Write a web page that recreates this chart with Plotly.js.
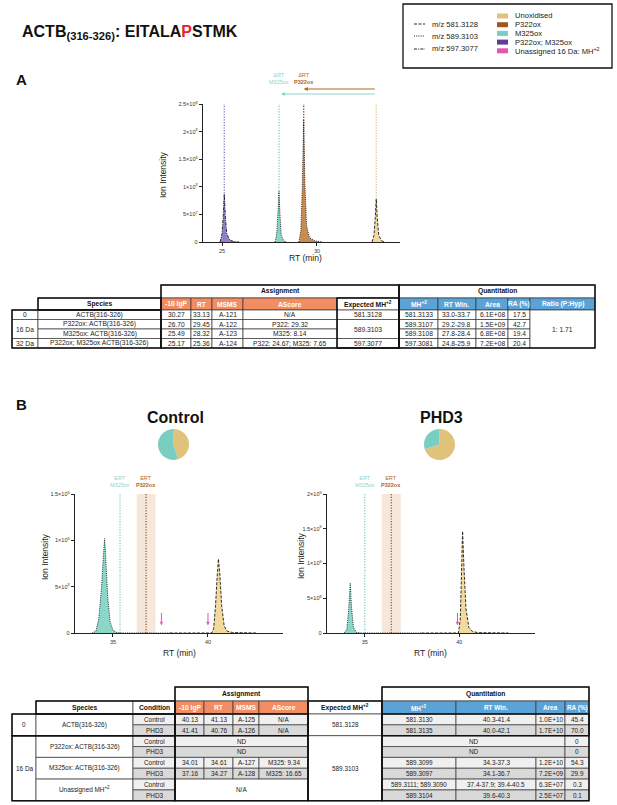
<!DOCTYPE html>
<html><head><meta charset="utf-8">
<script src="https://cdn.plot.ly/plotly-3.0.1.min.js"></script>
<style>body{margin:0;background:#fff}#chart{width:617px;height:805px}</style>
</head><body><div id="chart"></div>
<script>
// ---------------- DATA ----------------
// Panel A: extracted ion chromatograms (RT in min, intensity)
const aUnoxX = [32.9,33.0,33.07,33.12,33.17,33.25,33.4,33.6];
const aUnoxY = [0,1.2e7,4.5e7,7.8e7,4.5e7,1.2e7,2e6,0];
const aP322X = [29.05,29.15,29.23,29.3,29.36,29.45,29.6,29.9,30.3];
const aP322Y = [0,2e7,1.0e8,2.22e8,1.1e8,3e7,8e6,2e6,0];
const aM325X = [27.8,27.88,27.95,28.0,28.05,28.12,28.25,28.4];
const aM325Y = [0,1.5e7,5.5e7,9.2e7,5e7,1.2e7,2e6,0];
const aBothX = [24.9,25.0,25.07,25.12,25.18,25.25,25.4,25.6,25.9];
const aBothY = [0,1.5e7,5e7,8.7e7,4.5e7,1.5e7,4e6,1e6,0];
const aApexRT = [33.12, 29.3, 28.0, 25.12];   // Unox, P322ox, M325ox, both

// Panel B: Control
const bcM325X = [33.9,34.1,34.25,34.4,34.5,34.56,34.62,34.72,34.85,35.0,35.2,35.5,38.0];
const bcM325Y = [0,2e7,1.5e8,5e8,8.5e8,1.02e9,8e8,4e8,1.2e8,3e7,5e6,0,0];
const bcUnoxX = [38.0,40.2,40.3,40.4,40.48,40.55,40.62,40.72,40.85,41.0,41.3,41.7,42.6];
const bcUnoxY = [0,0,5e7,3e8,6e8,8e8,6.5e8,3e8,8e7,2e7,5e6,1e6,0];
// Panel B: PHD3
const bpM325X = [33.9,34.05,34.15,34.23,34.3,34.4,34.55,34.8,38.0];
const bpM325Y = [0,5e7,3.5e8,7.2e8,3.5e8,8e7,1e7,0,0];
const bpUnoxX = [38.0,39.95,40.05,40.12,40.17,40.25,40.35,40.5,40.7,41.0,41.5,42.6];
const bpUnoxY = [0,0,2e8,8e8,1.465e9,9e8,3.5e8,8e7,2e7,5e6,1e6,0];
// Expected RT (ERT) markers and window: [Control, PHD3]
const ertM325 = [35.37, 35.0];
const ertP322 = [36.74, 36.4];
const ertWinLo = [36.25, 35.9];
const ertWinHi = [37.24, 36.9];
const pinkCtrl = [37.55, 40.0];
const pinkPHD3 = [39.9];

// Table A
const tA_delta = ['0','16 Da','32 Da'];
const tA_species = ['ACTB(316-326)','P322ox: ACTB(316-326)','M325ox: ACTB(316-326)','P322ox; M325ox ACTB(316-326)'];
const tA_lgP = ['30.27','26.70','25.49','25.17'];
const tA_RT = ['33.13','29.45','28.32','25.36'];
const tA_MSMS = ['A-121','A-122','A-123','A-124'];
const tA_AScore = ['N/A','P322: 29.32','M325: 8.14','P322: 24.67; M325: 7.65'];
const tA_expected = ['581.3128','589.3103','597.3077'];
const tA_MH = ['581.3133','589.3107','589.3108','597.3081'];
const tA_RTwin = ['33.0-33.7','29.2-29.8','27.8-28.4','24.8-25.9'];
const tA_area = ['6.1E+08','1.5E+09','6.8E+08','7.2E+08'];
const tA_RA = ['17.5','42.7','19.4','20.4'];
const tA_ratio = '1: 1.71';

// Table B
const tB_delta = ['0','16 Da'];
const tB_species = ['ACTB(316-326)','P322ox: ACTB(316-326)','M325ox: ACTB(316-326)','Unassigned MH<sup>+2</sup>'];
const tB_cond = ['Control','PHD3','Control','PHD3','Control','PHD3','Control','PHD3'];
const tB_lgP = ['40.13','41.41','ND','ND','34.01','37.16','N/A','N/A'];
const tB_RT = ['41.13','40.76','','','34.61','34.27','',''];
const tB_MSMS = ['A-125','A-126','','','A-127','A-128','',''];
const tB_AScore = ['N/A','N/A','','','M325: 9.34','M325: 16.65','',''];
const tB_expected = ['581.3128','589.3103'];
const tB_MH = ['581.3130','581.3135','ND','ND','589.3099','589.3097','589.3111; 589.3090','589.3104'];
const tB_RTwin = ['40.3-41.4','40.0-42.1','','','34.3-37.3','34.1-36.7','37.4-37.9; 39.4-40.5','39.6-40.3'];
const tB_area = ['1.0E+10','1.7E+10','','','1.2E+10','7.2E+09','6.3E+07','2.5E+07'];
const tB_RA = ['45.4','70.0','0','0','54.3','29.9','0.3','0.1'];

// Pie charts (relative abundance, %)
const pieLabels = ['Unoxidised','M325ox','Unassigned 16 Da'];
const pieCtrl = [45.4, 54.3, 0.3];
const piePHD3 = [70.0, 29.9, 0.1];

// ---------------- STYLE ----------------
const C = {unox:'#E0C27A', unoxFill:'rgba(240,214,145,0.9)', p322:'#A0561E', p322Fill:'rgba(200,135,70,0.95)',
  m325:'#7ACDC1', m325Fill:'rgba(125,210,195,0.9)', both:'#5A3F94', bothFill:'rgba(135,115,195,0.9)', pink:'#E058B0',
  orange:'#F28C63', blue:'#5BA3D6', g1:'#F0F0F0', g2:'#D9D9D9'};
const W=617, H=805;
const X = p => p/W, Y = p => 1 - p/H;
const FONT = 'Liberation Sans, Arial, sans-serif';
const shapes = [], ann = [];

function txt(x, y, text, o={}) {
  ann.push(Object.assign({xref:'paper', yref:'paper', x:X(x), y:Y(y), text, showarrow:false,
    xanchor:'center', yanchor:'middle', font:{family:FONT, size:6.7, color:'#222'}}, o));
}
function rect(x0,y0,x1,y1,fill,lw,lc){
  shapes.push({type:'rect', xref:'paper', yref:'paper', x0:X(x0), x1:X(x1), y0:Y(y1), y1:Y(y0),
    fillcolor:fill||'rgba(0,0,0,0)', line:{width:lw, color:lc||'#222'}, layer:'above'});
}

// ---------------- TRACES ----------------
const DASH = {d581:'3px,1.5px', d589:'1px,1.2px', d597:'3px,1.2px,1px,1.2px'};
function xic(x, y, xa, ya, dash, fill) {
  return {x, y, xaxis:xa, yaxis:ya, type:'scatter', mode:'lines', fill:'tozeroy', fillcolor:fill,
    line:{color:'#1a1a1a', width:0.9, dash}, hoverinfo:'skip', showlegend:false};
}
const traces = [
  xic(aBothX, aBothY, 'x','y',DASH.d597, C.bothFill),
  xic(aM325X, aM325Y, 'x','y',DASH.d589, C.m325Fill),
  xic(aP322X, aP322Y, 'x','y',DASH.d589, C.p322Fill),
  xic(aUnoxX, aUnoxY, 'x','y',DASH.d581, C.unoxFill),
  xic(bcM325X, bcM325Y, 'x2','y2',DASH.d589, C.m325Fill),
  xic(bcUnoxX, bcUnoxY, 'x2','y2',DASH.d581, C.unoxFill),
  xic(bpM325X, bpM325Y, 'x3','y3',DASH.d589, C.m325Fill),
  xic(bpUnoxX, bpUnoxY, 'x3','y3',DASH.d581, C.unoxFill),
  {type:'pie', values:pieCtrl, labels:pieLabels, sort:false, direction:'clockwise', rotation:0,
   marker:{colors:[C.unox, C.m325, C.pink], line:{width:0}}, textinfo:'none', hoverinfo:'skip', showlegend:false,
   domain:{x:[X(158),X(189)], y:[Y(460),Y(429)]}},
  {type:'pie', values:piePHD3, labels:pieLabels, sort:false, direction:'clockwise', rotation:0,
   marker:{colors:[C.unox, C.m325, C.pink], line:{width:0}}, textinfo:'none', hoverinfo:'skip', showlegend:false,
   domain:{x:[X(424),X(455)], y:[Y(460),Y(429)]}}
];

// ---------------- PANEL A decorations ----------------
const aRefColors = [C.unox, '#7a3e10', C.m325, '#8070C0'];
aApexRT.forEach((rt,i)=>shapes.push({type:'line', xref:'x', yref:'y', x0:rt, x1:rt, y0:0, y1:2.5e8,
  line:{color:aRefColors[i], width:1.3, dash:'1.2px,1.5px'}, layer:'below'}));
// ΔRT arrows
ann.push({xref:'x', yref:'paper', x:aApexRT[1], y:Y(89), axref:'x', ayref:'pixel', ax:aApexRT[0], ay:0,
  showarrow:true, arrowhead:2, arrowsize:0.7, arrowwidth:1.2, arrowcolor:'#B0662A', text:''});
ann.push({xref:'x', yref:'paper', x:aApexRT[2]+0.1, y:Y(94), axref:'x', ayref:'pixel', ax:aApexRT[0], ay:0,
  showarrow:true, arrowhead:2, arrowsize:0.7, arrowwidth:1.2, arrowcolor:'#8FD3CA', text:''});
ann.push({xref:'x', yref:'paper', x:aApexRT[2], y:Y(87), yanchor:'bottom', text:'ΔRT<br>M325ox', showarrow:false,
  font:{family:FONT, size:5.5, color:'#8FD3CA'}});
ann.push({xref:'x', yref:'paper', x:aApexRT[1], y:Y(87), yanchor:'bottom', text:'ΔRT<br><b>P322ox</b>', showarrow:false,
  font:{family:FONT, size:5.5, color:'#B0662A'}});
txt(163, 175, 'Ion Intensity', {textangle:-90, font:{family:FONT, size:8.5, color:'#222'}});
txt(305, 258, 'RT (min)', {font:{family:FONT, size:8.5, color:'#222'}});

// ---------------- PANEL B decorations ----------------
[['x2','y2',1.5e9,0],['x3','y3',2e9,1]].forEach(([xa,ya,top,k])=>{
  shapes.push({type:'rect', xref:xa, yref:ya, x0:ertWinLo[k], x1:ertWinHi[k], y0:0, y1:top,
    fillcolor:'rgba(236,214,190,0.55)', line:{width:0}, layer:'below'});
  shapes.push({type:'line', xref:xa, yref:ya, x0:ertM325[k], x1:ertM325[k], y0:0, y1:top,
    line:{color:'#6FCDC0', width:1.2, dash:'1.2px,1.5px'}, layer:'below'});
  shapes.push({type:'line', xref:xa, yref:ya, x0:ertP322[k], x1:ertP322[k], y0:0, y1:top,
    line:{color:'#9A5220', width:1.2, dash:'1.2px,1.5px'}, layer:'below'});
  ann.push({xref:xa, yref:'paper', x:ertM325[k], y:Y(482), text:'ERT<br>M325ox', showarrow:false,
    font:{family:FONT, size:5.5, color:'#8FD3CA'}});
  ann.push({xref:xa, yref:'paper', x:ertP322[k], y:Y(482), text:'ERT<br><b>P322ox</b>', showarrow:false,
    font:{family:FONT, size:5.5, color:'#B0662A'}});
  const pinks = k===0 ? pinkCtrl : pinkPHD3;
  pinks.forEach(px=>ann.push({xref:xa, yref:ya, x:px, y:top*0.055, axref:xa, ayref:ya, ax:px, ay:top*0.155,
    showarrow:true, arrowhead:2, arrowsize:0.7, arrowwidth:1, arrowcolor:C.pink, text:''}));
});
txt(45, 556, 'Ion Intensity', {textangle:-90, font:{family:FONT, size:8.5, color:'#222'}});
txt(180, 653, 'RT (min)', {font:{family:FONT, size:8.5, color:'#222'}});
txt(301, 556, 'Ion Intensity', {textangle:-90, font:{family:FONT, size:8.5, color:'#222'}});
txt(430, 653, 'RT (min)', {font:{family:FONT, size:8.5, color:'#222'}});
txt(175, 417, '<b>Control</b>', {font:{family:FONT, size:16, color:'#111'}});
txt(441, 417, '<b>PHD3</b>', {font:{family:FONT, size:16, color:'#111'}});

// ---------------- Title, panel letters, legend ----------------
txt(20, 32, '<b>ACTB<sub>(316-326)</sub>: EITALA<span style="color:#E8231F">P</span>STMK</b>',
  {xanchor:'left', font:{family:FONT, size:16, color:'#111'}});
txt(14, 80, '<b>A</b>', {xanchor:'left', font:{family:FONT, size:15, color:'#111'}});
txt(14, 404, '<b>B</b>', {xanchor:'left', font:{family:FONT, size:15, color:'#111'}});

rect(403, 4, 612, 68, null, 1.3, '#111');
const legLines = [['m/z 581.3128',DASH.d581,24],['m/z 589.3103',DASH.d589,36],['m/z 597.3077',DASH.d597,49]];
legLines.forEach(([t,d,y])=>{
  shapes.push({type:'line', xref:'paper', yref:'paper', x0:X(414), x1:X(425), y0:Y(y), y1:Y(y), line:{color:'#222', width:1, dash:d}});
  txt(430, y, t, {xanchor:'left', font:{family:FONT, size:7.6, color:'#222'}});
});
const legSw = [['Unoxidised',C.unox],['P322ox',C.p322],['M325ox',C.m325],['P322ox; M325ox',C.both],['Unassigned 16 Da: MH<sup>+2</sup>',C.pink]];
legSw.forEach(([t,c],i)=>{
  const y = 16 + i*8.7;
  rect(497, y-2.5, 508, y+2.5, c, 0);
  txt(513, y, t, {xanchor:'left', font:{family:FONT, size:7.6, color:'#222'}});
});

// ---------------- TABLES ----------------
function cell(cx, ry, c0, c1, r0, r1, text, fill, o={}) {
  rect(cx[c0], ry[r0], cx[c1], ry[r1], fill||'#fff', 0.7, '#333');
  if (text) txt((cx[c0]+cx[c1])/2, (ry[r0]+ry[r1])/2, text, o);
}
const hW = {font:{family:FONT, size:6.7, color:'#fff'}};
const hB = {font:{family:FONT, size:6.7, color:'#111'}};

// Table A
const aCx = [12,38,161,191,212,243,337,399,438,476,508,530,595];
const aRy = [285,298,310,319.5,329,338.5,348];
cell(aCx,aRy,2,7,0,1,'<b>Assignment</b>',null,hB);
cell(aCx,aRy,7,12,0,1,'<b>Quantitation</b>',null,hB);
cell(aCx,aRy,1,2,1,2,'<b>Species</b>',null,hB);
['-10 lgP','RT','MSMS','AScore'].forEach((t,i)=>cell(aCx,aRy,2+i,3+i,1,2,'<b>'+t+'</b>',C.orange,hW));
cell(aCx,aRy,6,7,1,2,'<b>Expected MH<sup>+2</sup></b>',null,hB);
['MH<sup>+2</sup>','RT Win.','Area','RA (%)','Ratio (P:Hyp)'].forEach((t,i)=>cell(aCx,aRy,7+i,8+i,1,2,'<b>'+t+'</b>',C.blue,hW));
const aSpan = [[0,1],[1,3],[3,4]];
aSpan.forEach(([s,e],g)=>{
  cell(aCx,aRy,0,1,2+s,2+e,tA_delta[g]);
  cell(aCx,aRy,6,7,2+s,2+e,tA_expected[g]);
});
tA_species.forEach((sp,i)=>{
  const r=2+i;
  cell(aCx,aRy,1,2,r,r+1,sp);
  [tA_lgP,tA_RT,tA_MSMS,tA_AScore].forEach((arr,j)=>cell(aCx,aRy,2+j,3+j,r,r+1,arr[i]));
  [tA_MH,tA_RTwin,tA_area,tA_RA].forEach((arr,j)=>cell(aCx,aRy,7+j,8+j,r,r+1,arr[i]));
});
cell(aCx,aRy,11,12,2,6,tA_ratio);
[[2,7,0,6],[7,12,0,6],[1,2,1,2],[0,2,2,6],[6,7,1,6]].forEach(([c0,c1,r0,r1])=>rect(aCx[c0],aRy[r0],aCx[c1],aRy[r1],null,1.5,'#111'));

// Table B
const bCx = [12,36,133,175,204,233,259,308,382,456,536,565,589];
const bRy = [687,701,714]; for (let i=1;i<=8;i++) bRy.push(714+i*10.85);
const tbF = {font:{family:FONT, size:6.4, color:'#222'}};
cell(bCx,bRy,3,7,0,1,'<b>Assignment</b>',null,hB);
cell(bCx,bRy,8,12,0,1,'<b>Quantitation</b>',null,hB);
cell(bCx,bRy,1,2,1,2,'<b>Species</b>',null,hB);
cell(bCx,bRy,2,3,1,2,'<b>Condition</b>',null,hB);
['-10 lgP','RT','MSMS','AScore'].forEach((t,i)=>cell(bCx,bRy,3+i,4+i,1,2,'<b>'+t+'</b>',C.orange,hW));
cell(bCx,bRy,7,8,1,2,'<b>Expected MH<sup>+2</sup></b>',null,hB);
['MH<sup>+2</sup>','RT Win.','Area','RA (%)'].forEach((t,i)=>cell(bCx,bRy,8+i,9+i,1,2,'<b>'+t+'</b>',C.blue,{font:{family:FONT, size:6.4, color:'#fff'}}));
cell(bCx,bRy,0,1,2,4,tB_delta[0],null,tbF);
cell(bCx,bRy,0,1,4,10,tB_delta[1],null,tbF);
cell(bCx,bRy,7,8,2,4,tB_expected[0],null,tbF);
cell(bCx,bRy,7,8,4,10,tB_expected[1],null,tbF);
tB_species.forEach((sp,g)=>cell(bCx,bRy,1,2,2+2*g,4+2*g,sp,null,tbF));
tB_cond.forEach((cd,i)=>{
  const r=2+i, f = i%2===0 ? C.g1 : C.g2;
  cell(bCx,bRy,2,3,r,r+1,cd,f,tbF);
  if (tB_lgP[i]==='ND') cell(bCx,bRy,3,7,r,r+1,'ND',f,tbF);
  else if (tB_lgP[i]==='N/A') { if (i===6) cell(bCx,bRy,3,7,r,r+2,'N/A','#fff',tbF); }
  else [tB_lgP,tB_RT,tB_MSMS,tB_AScore].forEach((arr,j)=>cell(bCx,bRy,3+j,4+j,r,r+1,arr[i],f,tbF));
  if (tB_MH[i]==='ND') cell(bCx,bRy,8,11,r,r+1,'ND',f,tbF);
  else [tB_MH,tB_RTwin,tB_area].forEach((arr,j)=>cell(bCx,bRy,8+j,9+j,r,r+1,arr[i],f,tbF));
  cell(bCx,bRy,11,12,r,r+1,tB_RA[i],f,tbF);
});
[[3,7,0,10],[8,12,0,10],[1,3,1,2],[0,3,2,4],[0,3,4,10],[7,8,1,10],[3,7,2,4],[8,12,2,4]].forEach(([c0,c1,r0,r1])=>rect(bCx[c0],bRy[r0],bCx[c1],bRy[r1],null,1.5,'#111'));

// ---------------- AXES ----------------
const tf = {family:FONT, size:5.5, color:'#333'};
const xBase = {showline:true, linecolor:'#222', linewidth:1.3, ticks:'outside', ticklen:3, tickwidth:1, tickcolor:'#222',
  showgrid:false, zeroline:false, tickfont:tf, fixedrange:true};
const layout = {
  width:W, height:H, margin:{l:0,r:0,t:0,b:0}, paper_bgcolor:'#fff', plot_bgcolor:'rgba(0,0,0,0)',
  font:{family:FONT}, showlegend:false,
  xaxis: Object.assign({}, xBase, {domain:[X(203),X(400)], range:[24,34.37], anchor:'y', tickvals:[25,30]}),
  yaxis: Object.assign({}, xBase, {domain:[Y(242),Y(104)], range:[0,2.5e8], anchor:'x',
    tickvals:[0,5e7,1e8,1.5e8,2e8,2.5e8], ticktext:['0','5×10<sup>7</sup>','1×10<sup>8</sup>','1.5×10<sup>8</sup>','2×10<sup>8</sup>','2.5×10<sup>8</sup>']}),
  xaxis2: Object.assign({}, xBase, {domain:[X(75),X(283)], range:[33,43.95], anchor:'y2', tickvals:[35,40]}),
  yaxis2: Object.assign({}, xBase, {domain:[Y(633),Y(494)], range:[0,1.5e9], anchor:'x2',
    tickvals:[0,5e8,1e9,1.5e9], ticktext:['0','5×10<sup>8</sup>','1×10<sup>9</sup>','1.5×10<sup>9</sup>']}),
  xaxis3: Object.assign({}, xBase, {domain:[X(327),X(535)], range:[33,44], anchor:'y3', tickvals:[35,40]}),
  yaxis3: Object.assign({}, xBase, {domain:[Y(633),Y(494)], range:[0,2e9], anchor:'x3',
    tickvals:[0,5e8,1e9,1.5e9,2e9], ticktext:['0','5×10<sup>8</sup>','1×10<sup>9</sup>','1.5×10<sup>9</sup>','2×10<sup>9</sup>']}),
  shapes, annotations: ann
};
Plotly.newPlot('chart', traces, layout, {displayModeBar:false, staticPlot:true});
</script></body></html>
